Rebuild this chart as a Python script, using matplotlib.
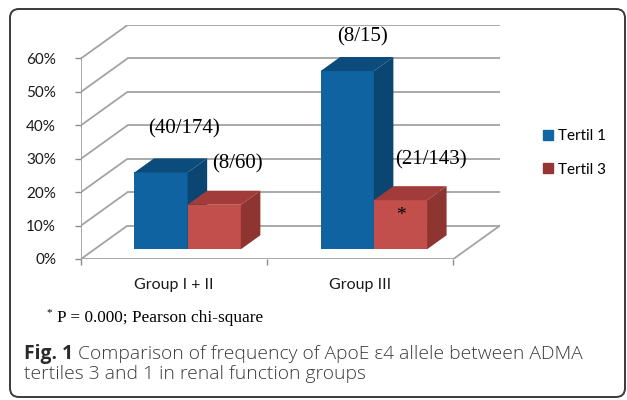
import matplotlib
matplotlib.use("Agg")
import matplotlib.pyplot as plt
from matplotlib.patches import Polygon, Patch, FancyBboxPatch

# data
groups = ["Group I + II", "Group III"]
series = ["Tertil 1", "Tertil 3"]
tertil1 = [40 / 174 * 100, 8 / 15 * 100]
tertil3 = [8 / 60 * 100, 21 / 143 * 100]
counts1 = ["(40/174)", "(8/15)"]
counts3 = ["(8/60)", "(21/143)"]
yticks = [0, 10, 20, 30, 40, 50, 60]

# 3d look
DX, DY = 0.25, 10.0          # full depth offset (x units, percent)
D_FRONT, D_BACK = 0.29, 0.71  # bar depth range
W = 1 / 3.5                   # bar width
GAP = (1 - 2 * W) / 2

faces = {
    "Tertil 1": ("#0f63a0", "#0c4c7d", "#0b4672"),  # front, top, side
    "Tertil 3": ("#c24f4c", "#a13c3a", "#8e3431"),
}
legend_cols = {"Tertil 1": "#0f66a3", "Tertil 3": "#953634"}
grid_col = "#a3a3a3"

fig = plt.figure(figsize=(6.27, 4.0), dpi=100)

# overlay in pixel coords for border + captions
bg = fig.add_axes([0, 0, 1, 1])
bg.set_xlim(0, 627)
bg.set_ylim(400, 0)
bg.axis("off")
bg.add_patch(FancyBboxPatch((10, 9), 615, 388, boxstyle="round,pad=0,rounding_size=9",
                            fc="none", ec="#3a3a3a", lw=1.4))

ax = fig.add_axes([81 / 627, (400 - 259) / 400, (500 - 81) / 627, (259 - 25) / 400])
ax.set_xlim(0, 2 + DX)
ax.set_ylim(0, 60 + DY)
ax.set_frame_on(False)


def proj(x, y, d):
    return (x + d * DX, y + d * DY)


# walls and floor
for v in yticks:
    ax.plot([0, DX], [v, v + DY], color=grid_col, lw=1.3, zorder=1, solid_capstyle="butt")
    ax.plot([DX, 2 + DX], [v + DY, v + DY], color=grid_col, lw=1.3, zorder=1)
ax.plot([0, 0], [0, 60], color=grid_col, lw=1.3, zorder=1)
ax.plot([0, 2], [0, 0], color=grid_col, lw=1.3, zorder=1)
ax.plot([2, 2 + DX], [0, DY], color=grid_col, lw=1.3, zorder=1)

# bars
z = 2
for i in range(len(groups)):
    for j, (name, vals) in enumerate(zip(series, [tertil1, tertil3])):
        v = vals[i]
        x0 = i + GAP + j * W
        x1 = x0 + W
        front, top, side = faces[name]
        ax.add_patch(Polygon([proj(x0, 0, D_FRONT), proj(x1, 0, D_FRONT),
                              proj(x1, v, D_FRONT), proj(x0, v, D_FRONT)],
                             fc=front, lw=0, zorder=z))
        ax.add_patch(Polygon([proj(x0, v, D_FRONT), proj(x1, v, D_FRONT),
                              proj(x1, v, D_BACK), proj(x0, v, D_BACK)],
                             fc=top, lw=0, zorder=z))
        ax.add_patch(Polygon([proj(x1, 0, D_FRONT), proj(x1, 0, D_BACK),
                              proj(x1, v, D_BACK), proj(x1, v, D_FRONT)],
                             fc=side, lw=0, zorder=z))
        z += 1

# count labels
serif = "Liberation Serif"
label_off = {"Tertil 1": [(0.07, 11.0), (0.03, 8.0)], "Tertil 3": [(0.07, 10.0), (0.11, 10.0)]}
for i in range(len(groups)):
    for j, (name, vals, txt) in enumerate(zip(series, [tertil1, tertil3], [counts1, counts3])):
        cx = i + GAP + j * W + W / 2 + 0.5 * DX
        cy = vals[i] + 0.5 * DY
        ox, oy = label_off[name][i]
        ax.text(cx + ox, cy + oy, txt[i], family=serif, fontsize=15,
                ha="center", va="center", zorder=20)
# significance mark on group III tertil 3
ax.text(1 + GAP + 1.5 * W + D_FRONT * DX, tertil3[1] + D_FRONT * DY - 4.6, "*",
        family=serif, fontsize=14, ha="center", va="center", zorder=20)

# axes ticks
ax.set_yticks(yticks)
ax.set_yticklabels([f"{v}%" for v in yticks])
ax.set_xticks([0, 1, 2])
ax.set_xticklabels([])
ax.set_xticks([0.5, 1.5], minor=True)
ax.set_xticklabels(groups, minor=True)
ax.tick_params(axis="y", direction="out", length=4, width=1, color="#8c8c8c", pad=14,
               labelsize=11, labelfontfamily="Lato", labelcolor="#1a1a1a")
ax.tick_params(axis="x", which="major", direction="out", length=4, width=1, color="#8c8c8c")
ax.tick_params(axis="x", which="minor", length=0, pad=14, labelsize=11.5,
               labelfontfamily="Lato", labelcolor="#1a1a1a")

fig.legend([Patch(color=legend_cols[s]) for s in series], series,
           loc="center left", bbox_to_anchor=(543 / 627, 1 - 153 / 400),
           frameon=False, handlelength=0.68, handleheight=0.68, handletextpad=0.3,
           labelspacing=1.25, borderpad=0, borderaxespad=0,
           prop={"family": "Lato", "size": 11})

# footnote and caption
bg.text(49, 313, "*", family=serif, fontsize=8, ha="center", va="center")
bg.text(57, 318, "P = 0.000; Pearson chi-square", family=serif, fontsize=12.4,
        ha="left", va="center")
fig_lbl = bg.text(24, 354, "Fig. 1", family="Open Sans", fontweight="bold", fontsize=13.9,
                  color="#2a2a2a", ha="left", va="center")
bg.annotate(" Comparison of frequency of ApoE \u03b54 allele between ADMA",
            xy=(1, 0.5), xycoords=fig_lbl, ha="left", va="center",
            family="Open Sans", fontweight="light", fontsize=13.9, color="#3c3c3c")
bg.text(24, 374, "tertiles 3 and 1 in renal function groups", family="Open Sans",
        fontweight="light", fontsize=13.9, color="#3c3c3c", ha="left", va="center")

plt.savefig("out.png", dpi=100)
